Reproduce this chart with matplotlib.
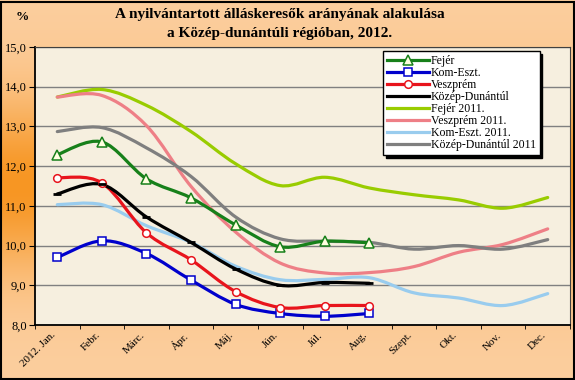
import numpy as np
import matplotlib.pyplot as plt
from matplotlib.path import Path
from matplotlib.patches import PathPatch, Rectangle
from matplotlib.lines import Line2D
from matplotlib.ticker import FuncFormatter

# data (%)
months = ['2012. Jan.', 'Febr.', 'Márc.', 'Ápr.', 'Máj.', 'Jún.', 'Júl.',
          'Aug.', 'Szept.', 'Okt.', 'Nov.', 'Dec.']
fejer_2012 = [12.29, 12.61, 11.68, 11.20, 10.52, 9.97, 10.11, 10.07]
komeszt_2012 = [9.70, 10.12, 9.80, 9.13, 8.52, 8.29, 8.22, 8.29]
veszprem_2012 = [11.71, 11.58, 10.32, 9.64, 8.84, 8.44, 8.49, 8.49]
kd_2012 = [11.30, 11.54, 10.72, 10.08, 9.41, 9.00, 9.07, 9.05]
fejer_2011 = [13.74, 13.93, 13.53, 12.87, 12.06, 11.51, 11.72, 11.45, 11.28, 11.15, 10.94, 11.21]
veszprem_2011 = [13.74, 13.78, 13.02, 11.49, 10.34, 9.56, 9.31, 9.32, 9.47, 9.83, 10.03, 10.42]
komeszt_2011 = [11.03, 11.03, 10.50, 10.08, 9.48, 9.14, 9.15, 9.19, 8.81, 8.68, 8.49, 8.79]
kd_2011 = [12.87, 12.97, 12.46, 11.74, 10.72, 10.17, 10.11, 10.08, 9.91, 10.00, 9.91, 10.15]

serif = 'Liberation Serif'


def smooth_path(ys):
    # Excel-style smoothed line: cubic bezier through the points
    pts = np.column_stack([np.arange(len(ys)), ys]).astype(float)
    verts = [pts[0]]
    codes = [Path.MOVETO]
    n = len(pts)
    for i in range(n - 1):
        p0 = pts[i - 1] if i > 0 else pts[i]
        p1, p2 = pts[i], pts[i + 1]
        p3 = pts[i + 2] if i + 2 < n else pts[i + 1]
        c1 = p1 + (p2 - p0) / 6.0
        c2 = p2 - (p3 - p1) / 6.0
        verts += [c1, c2, p2]
        codes += [Path.CURVE4] * 3
    return Path(verts, codes)


fig = plt.figure(figsize=(5.75, 3.8), dpi=100)

# orange gradient background
bg = fig.add_axes([0, 0, 1, 1], zorder=-10)
h = 380
yy = np.arange(h)
t = np.exp(-((yy - 185) / 85.0) ** 2)
peach = np.array([252, 206, 158]) / 255.
orange = np.array([247, 150, 35]) / 255.
col = peach[None, :] * (1 - t[:, None]) + orange[None, :] * t[:, None]
img = np.repeat(col[:, None, :], 20, axis=1)
bg.imshow(img, aspect='auto', extent=[0, 1, 0, 1], origin='upper')
bg.set_axis_off()
fig.patches.append(Rectangle((0.001, 0.002), 0.997, 0.994, transform=fig.transFigure,
                             fill=False, edgecolor='black', linewidth=1.5))

ax = fig.add_axes([35 / 575, 1 - 325 / 380, 535 / 575, 278 / 380])
ax.set_facecolor('#F6EFDF')
ax.set_xlim(-0.5, 11.5)
ax.set_ylim(8, 15)
ax.set_yticks(np.arange(8, 15.1, 1))
ax.yaxis.set_major_formatter(FuncFormatter(lambda v, p: f'{v:.1f}'.replace('.', ',')))
ax.grid(axis='y', color='#808080', linewidth=1)
ax.set_axisbelow(True)
ax.set_xticks(range(12))
ax.set_xticklabels(months, rotation=45, ha='right', fontsize=8, family=serif)
ax.tick_params(axis='x', length=0, pad=4)
ax.set_xticks(np.arange(-0.5, 12, 1), minor=True)
ax.tick_params(axis='x', which='minor', length=3)
ax.tick_params(axis='y', labelsize=9, length=4, pad=2)
for lab in ax.get_yticklabels():
    lab.set_family(serif)
for s in ['left', 'bottom']:
    ax.spines[s].set_linewidth(1.3)
for s in ['top', 'right']:
    ax.spines[s].set_color('#404040')
    ax.spines[s].set_linewidth(0.8)

lw = 2.3
series = [
    (fejer_2011, '#99CC00', 'Fejér 2011.', None, None, 0),
    (veszprem_2011, '#EE7F86', 'Veszprém 2011.', None, None, 0),
    (komeszt_2011, '#99CCEE', 'Kom-Eszt. 2011.', None, None, 0),
    (kd_2011, '#7F7F7F', 'Közép-Dunántúl 2011', None, None, 0),
    (fejer_2012, '#17801A', 'Fejér', '^', '#FFFFE0', 6.5),
    (komeszt_2012, '#0000CC', 'Kom-Eszt.', 's', 'white', 6),
    (veszprem_2012, '#E8141C', 'Veszprém', 'o', 'white', 5.5),
    (kd_2012, 'black', 'Közép-Dunántúl', '_', None, 6),
]
handles = {}
for vals, c, name, mk, fc, ms in series:
    ax.add_patch(PathPatch(smooth_path(vals), fill=False, edgecolor=c,
                           linewidth=lw, capstyle='round', zorder=3))
    if mk == '_':
        ax.plot(range(len(vals)), vals, linestyle='none', marker='_',
                markersize=ms, markeredgewidth=2, color=c, zorder=4)
        handles[name] = Line2D([], [], color=c, linewidth=lw)
    elif mk:
        ax.plot(range(len(vals)), vals, linestyle='none', marker=mk,
                markersize=ms, markerfacecolor=fc, markeredgecolor=c,
                markeredgewidth=1.1, zorder=4)
        handles[name] = Line2D([], [], color=c, linewidth=lw, marker=mk,
                               markersize=ms, markerfacecolor=fc,
                               markeredgecolor=c, markeredgewidth=1.1)
    else:
        handles[name] = Line2D([], [], color=c, linewidth=lw)

order = ['Fejér', 'Kom-Eszt.', 'Veszprém', 'Közép-Dunántúl', 'Fejér 2011.',
         'Veszprém 2011.', 'Kom-Eszt. 2011.', 'Közép-Dunántúl 2011']
leg = ax.legend([handles[k] for k in order], order, loc='upper left',
                bbox_to_anchor=(0.65, 0.985), frameon=True, fancybox=False,
                shadow={'color': 'black', 'alpha': 1}, edgecolor='black',
                framealpha=1, prop={'family': serif, 'size': 8.5},
                handlelength=3.6, labelspacing=0.0, borderpad=0.35,
                handletextpad=0.1, borderaxespad=0)
leg.get_frame().set_linewidth(1.0)
leg.set_zorder(10)

fig.text(0.487, 0.962, 'A nyilvántartott álláskeresők arányának alakulása',
         ha='center', va='center', fontsize=11, fontweight='bold', family=serif)
fig.text(0.487, 0.913, 'a Közép-dunántúli régióban, 2012.',
         ha='center', va='center', fontsize=11, fontweight='bold', family=serif)
fig.text(0.038, 0.955, '%', ha='center', va='center', fontsize=9.5,
         fontweight='bold', family=serif)

plt.savefig('out.png', dpi=100)
